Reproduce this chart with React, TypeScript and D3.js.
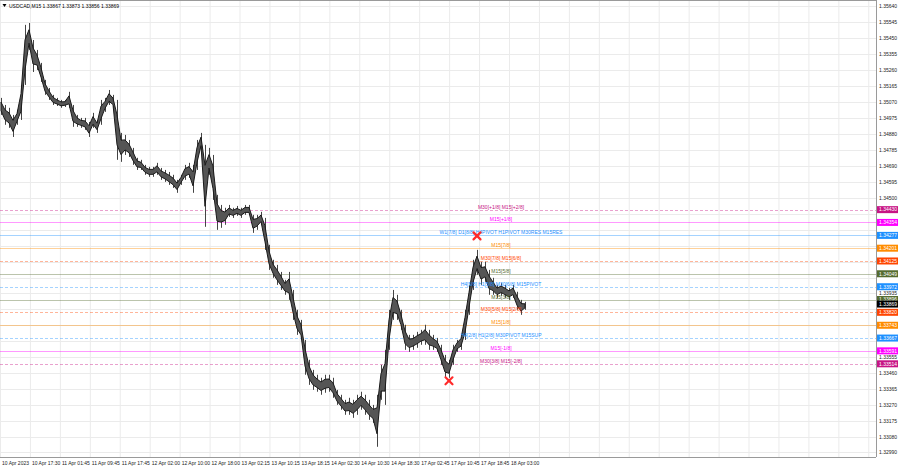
import React from "react";
import * as d3 from "d3";

const W = 900;
const H = 468;
const PLOT_RIGHT = 876;
const PLOT_BOTTOM = 457;

const title = "USDCAD,M15  1.33867 1.33873 1.33856 1.33869";

const timeLabels = [
  "10 Apr 2023", "10 Apr 17:30", "11 Apr 01:45", "11 Apr 09:45", "11 Apr 17:45",
  "12 Apr 02:00", "12 Apr 10:00", "12 Apr 18:00", "13 Apr 02:15", "13 Apr 10:15",
  "13 Apr 18:15", "14 Apr 02:30", "14 Apr 10:30", "14 Apr 18:30", "17 Apr 02:45",
  "17 Apr 10:45", "17 Apr 18:45", "18 Apr 03:00",
];

const priceTicks = [
  1.3564, 1.35545, 1.3545, 1.35355, 1.3526, 1.35165, 1.3507, 1.34975, 1.3488,
  1.34785, 1.3469, 1.34595, 1.345, 1.34405, 1.3431, 1.34215, 1.3412, 1.34025,
  1.33935, 1.3384, 1.33745, 1.3365, 1.33555, 1.3346, 1.33365, 1.3327, 1.33175,
  1.3308, 1.3299,
];

// high / low of the price path, left to right
const highs = [
  1.35094, 1.35052, 1.35035, 1.34993, 1.35023, 1.35171, 1.35528, 1.35539, 1.35438, 1.35379,
  1.35302, 1.35201, 1.35153, 1.35112, 1.35094, 1.35082, 1.35082, 1.3513, 1.35052, 1.34993,
  1.34975, 1.34975, 1.34951, 1.35005, 1.34963, 1.35082, 1.35094, 1.35141, 1.35112, 1.35082,
  1.34886, 1.34874, 1.34844, 1.34797, 1.34738, 1.34726, 1.34696, 1.34684, 1.34684, 1.34708,
  1.34678, 1.34666, 1.34654, 1.34637, 1.34607, 1.34637, 1.34696, 1.34708, 1.34696, 1.34844,
  1.34886, 1.34815, 1.34797, 1.34755, 1.34518, 1.34458, 1.34441, 1.34458, 1.34441, 1.34452,
  1.34441, 1.34458, 1.34458, 1.34399, 1.34399, 1.34417, 1.34381, 1.34221, 1.34132, 1.34102,
  1.3406, 1.34013, 1.3406, 1.33953, 1.33835, 1.33775, 1.33656, 1.33538, 1.33478, 1.33449,
  1.33431, 1.33449, 1.33449, 1.33431, 1.33359, 1.3333, 1.333, 1.33312, 1.333, 1.3333,
  1.33348, 1.3333, 1.333, 1.3327, 1.3333, 1.33508, 1.33597, 1.33835, 1.33953, 1.33924,
  1.33835, 1.33746, 1.33686, 1.33686, 1.33704, 1.33716, 1.33746, 1.33716, 1.33686, 1.33668,
  1.33627, 1.33567, 1.33538, 1.33627, 1.33656, 1.33686, 1.33835, 1.33983, 1.34132, 1.34191,
  1.3412, 1.3412, 1.34072, 1.34025, 1.33983, 1.33995, 1.33983, 1.33965, 1.33983, 1.33942,
  1.33894, 1.33882,
];
const lows = [
  1.34993, 1.34934, 1.34916, 1.34862, 1.34934, 1.34963, 1.35171, 1.35379, 1.35248, 1.3526,
  1.35189, 1.35112, 1.35082, 1.35052, 1.35046, 1.35035, 1.3504, 1.35035, 1.34922, 1.34922,
  1.34916, 1.34904, 1.34862, 1.34916, 1.34886, 1.34934, 1.35011, 1.35052, 1.35035, 1.34726,
  1.34714, 1.34755, 1.34743, 1.34696, 1.34666, 1.34666, 1.34637, 1.34625, 1.34625, 1.34637,
  1.34607, 1.34595, 1.34577, 1.34559, 1.3453, 1.34577, 1.34607, 1.34619, 1.3453, 1.34666,
  1.34785, 1.34328, 1.34637, 1.34488, 1.3431, 1.34322, 1.3434, 1.34387, 1.34381, 1.34393,
  1.34381, 1.34399, 1.34399, 1.34292, 1.3431, 1.3434, 1.34191, 1.34072, 1.34025, 1.33983,
  1.33953, 1.33924, 1.33894, 1.33775, 1.33686, 1.33656, 1.33449, 1.33389, 1.33359, 1.33348,
  1.3333, 1.33342, 1.33348, 1.33312, 1.3327, 1.33241, 1.33211, 1.33211, 1.33193, 1.33211,
  1.33241, 1.33211, 1.33181, 1.33163, 1.33021, 1.333, 1.3327, 1.33597, 1.33775, 1.33775,
  1.33716, 1.33597, 1.33585, 1.33597, 1.33609, 1.33627, 1.33627, 1.33597, 1.33597, 1.33585,
  1.33508, 1.33431, 1.33431, 1.33508, 1.33585, 1.33597, 1.33656, 1.33805, 1.33953, 1.34043,
  1.33983, 1.34001, 1.33924, 1.33924, 1.33906, 1.33918, 1.33906, 1.33894, 1.33906, 1.33835,
  1.33805, 1.33835,
];

const currentPrice = 1.33869;

const levelPrices = [
  1.3443, 1.34354, 1.34277, 1.34201, 1.34125, 1.34049, 1.33972, 1.33896, 1.3382,
  1.33743, 1.33667, 1.33591, 1.33514,
];
const levelLabels = [
  "M30[+1/8] M15[+2/8]",
  "M15[+1/8]",
  "W1[7/8] D1[8/8] H4PIVOT H1PIVOT M30RES M15RES",
  "M15[7/8]",
  "M30[7/8] M15[6/8]",
  "M15[5/8]",
  "H4[5/8] H1[5/8] M30[6/8] M15PIVOT",
  "M15[3/8]",
  "M30[5/8] M15[2/8]",
  "M15[1/8]",
  "H4[2/8] H1[2/8] M30PIVOT M15SUP",
  "M15[-1/8]",
  "M30[3/8] M15[-2/8]",
];
const levelColors = [
  "#c71585", "#ff00ff", "#1e90ff", "#ff8c00", "#ff4500", "#556b2f", "#1e90ff",
  "#556b2f", "#ff4500", "#ff8c00", "#1e90ff", "#ff00ff", "#c71585",
];
const levelDashed = [true, false, false, false, true, false, true, false, true, false, true, false, true];

// markers: column index and price
const markerIdx = [119, 112];
const markerPrice = [1.34274, 1.33413];

const FONT = "'Liberation Sans', Arial, sans-serif";

export default function App() {
  const y = d3.scaleLinear().domain([1.3564, 1.3299]).range([6, 452]);
  const x = d3.scaleLinear().domain([0, highs.length - 1]).range([1, 525]);
  const tx = d3.scaleLinear().domain([0, timeLabels.length - 1]).range([2, 511]);

  const vGrid: number[] = [];
  for (let i = 0; tx(i) - 2 < PLOT_RIGHT; i++) vGrid.push(tx(i) - 2);

  const idx = d3.range(highs.length);
  const band = d3
    .area<number>()
    .x((i) => x(i))
    .y0((i) => y(lows[i]) - (y(lows[i]) - y(highs[i])) * 0.25)
    .y1((i) => y(highs[i]) + (y(lows[i]) - y(highs[i])) * 0.25)
    .curve(d3.curveLinear)(idx) as string;

  return (
    <svg
      width={W}
      height={H}
      style={{ position: "absolute", left: 0, top: 0, background: "#fff" }}
      fontFamily={FONT}
    >
      <rect x={0} y={0} width={W} height={H} fill="#fff" />
      {/* grid */}
      {vGrid.map((gx, i) => (
        <line key={"vg" + i} x1={gx + 0.5} x2={gx + 0.5} y1={1} y2={PLOT_BOTTOM} stroke="#ebebeb" />
      ))}
      {priceTicks.map((p, i) => (
        <line key={"hg" + i} x1={0} x2={PLOT_RIGHT} y1={Math.round(y(p)) + 0.5} y2={Math.round(y(p)) + 0.5} stroke="#ebebeb" />
      ))}
      {/* frame */}
      <line x1={0} x2={PLOT_RIGHT} y1={0.5} y2={0.5} stroke="#9a9a9a" />
      <line x1={PLOT_RIGHT + 0.5} x2={PLOT_RIGHT + 0.5} y1={0} y2={PLOT_BOTTOM} stroke="#9a9a9a" />
      <line x1={0} x2={PLOT_RIGHT} y1={PLOT_BOTTOM + 0.5} y2={PLOT_BOTTOM + 0.5} stroke="#9a9a9a" />

      {/* levels */}
      {levelPrices.map((p, i) => (
        <line
          key={"lv" + i}
          x1={0}
          x2={PLOT_RIGHT}
          y1={Math.round(y(p)) + 0.5}
          y2={Math.round(y(p)) + 0.5}
          stroke={levelColors[i]}
          strokeOpacity={0.4}
          strokeDasharray={levelDashed[i] ? "3,2" : undefined}
        />
      ))}

      {/* price path: candle bodies ribbon plus high-low wicks */}
      {highs.map((h, i) => (
        <line
          key={"c" + i}
          x1={x(i) + 0.5}
          x2={x(i) + 0.5}
          y1={y(h)}
          y2={y(lows[i])}
          stroke="#444"
          strokeWidth={1}
        />
      ))}
      <path d={band} fill="#555" stroke="#1a1a1a" strokeWidth={1} />

      {/* level texts */}
      {levelPrices.map((p, i) => (
        <text
          key={"lt" + i}
          x={501}
          y={Math.round(y(p)) - 1}
          fontSize={5}
          textAnchor="middle"
          fill={levelColors[i]}
        >
          {levelLabels[i]}
        </text>
      ))}

      {/* markers */}
      {markerIdx.map((mi, i) => {
        const cx = x(mi);
        const cy = y(markerPrice[i]);
        const s = 3.5;
        return (
          <g key={"mk" + i} stroke="#ff2a2a" strokeWidth={2.2} strokeLinecap="round">
            <line x1={cx - s} y1={cy - s} x2={cx + s} y2={cy + s} />
            <line x1={cx - s} y1={cy + s} x2={cx + s} y2={cy - s} />
          </g>
        );
      })}

      {/* right axis labels */}
      {priceTicks.map((p, i) => {
        const py = y(p);
        const hidden = [...levelPrices, currentPrice].some((lp) => Math.abs(y(lp) - py) < 6);
        return hidden ? null : (
          <text key={"pt" + i} x={879} y={py + 1.8} fontSize={5} fill="#222">
            {p.toFixed(5)}
          </text>
        );
      })}
      {levelPrices.map((p, i) => (
        <g key={"bx" + i}>
          <rect x={877} y={y(p) - 3.5} width={21} height={7} fill={levelColors[i]} />
          <text x={879} y={y(p) + 1.8} fontSize={5} fill="#fff">
            {p.toFixed(5)}
          </text>
        </g>
      ))}
      <g>
        <rect x={877} y={y(currentPrice) - 3.5} width={21} height={7} fill="#000" />
        <text x={879} y={y(currentPrice) + 1.8} fontSize={5} fill="#fff">
          {currentPrice.toFixed(5)}
        </text>
      </g>

      {/* time labels */}
      {timeLabels.map((t, i) => (
        <text key={"tl" + i} x={tx(i)} y={465} fontSize={5} fill="#222">
          {t}
        </text>
      ))}

      {/* title */}
      <path d="M2.5,4 L6.5,4 L4.5,7 Z" fill="#000" />
      <text x={9} y={7.5} fontSize={5} fill="#000">
        {title}
      </text>
    </svg>
  );
}
